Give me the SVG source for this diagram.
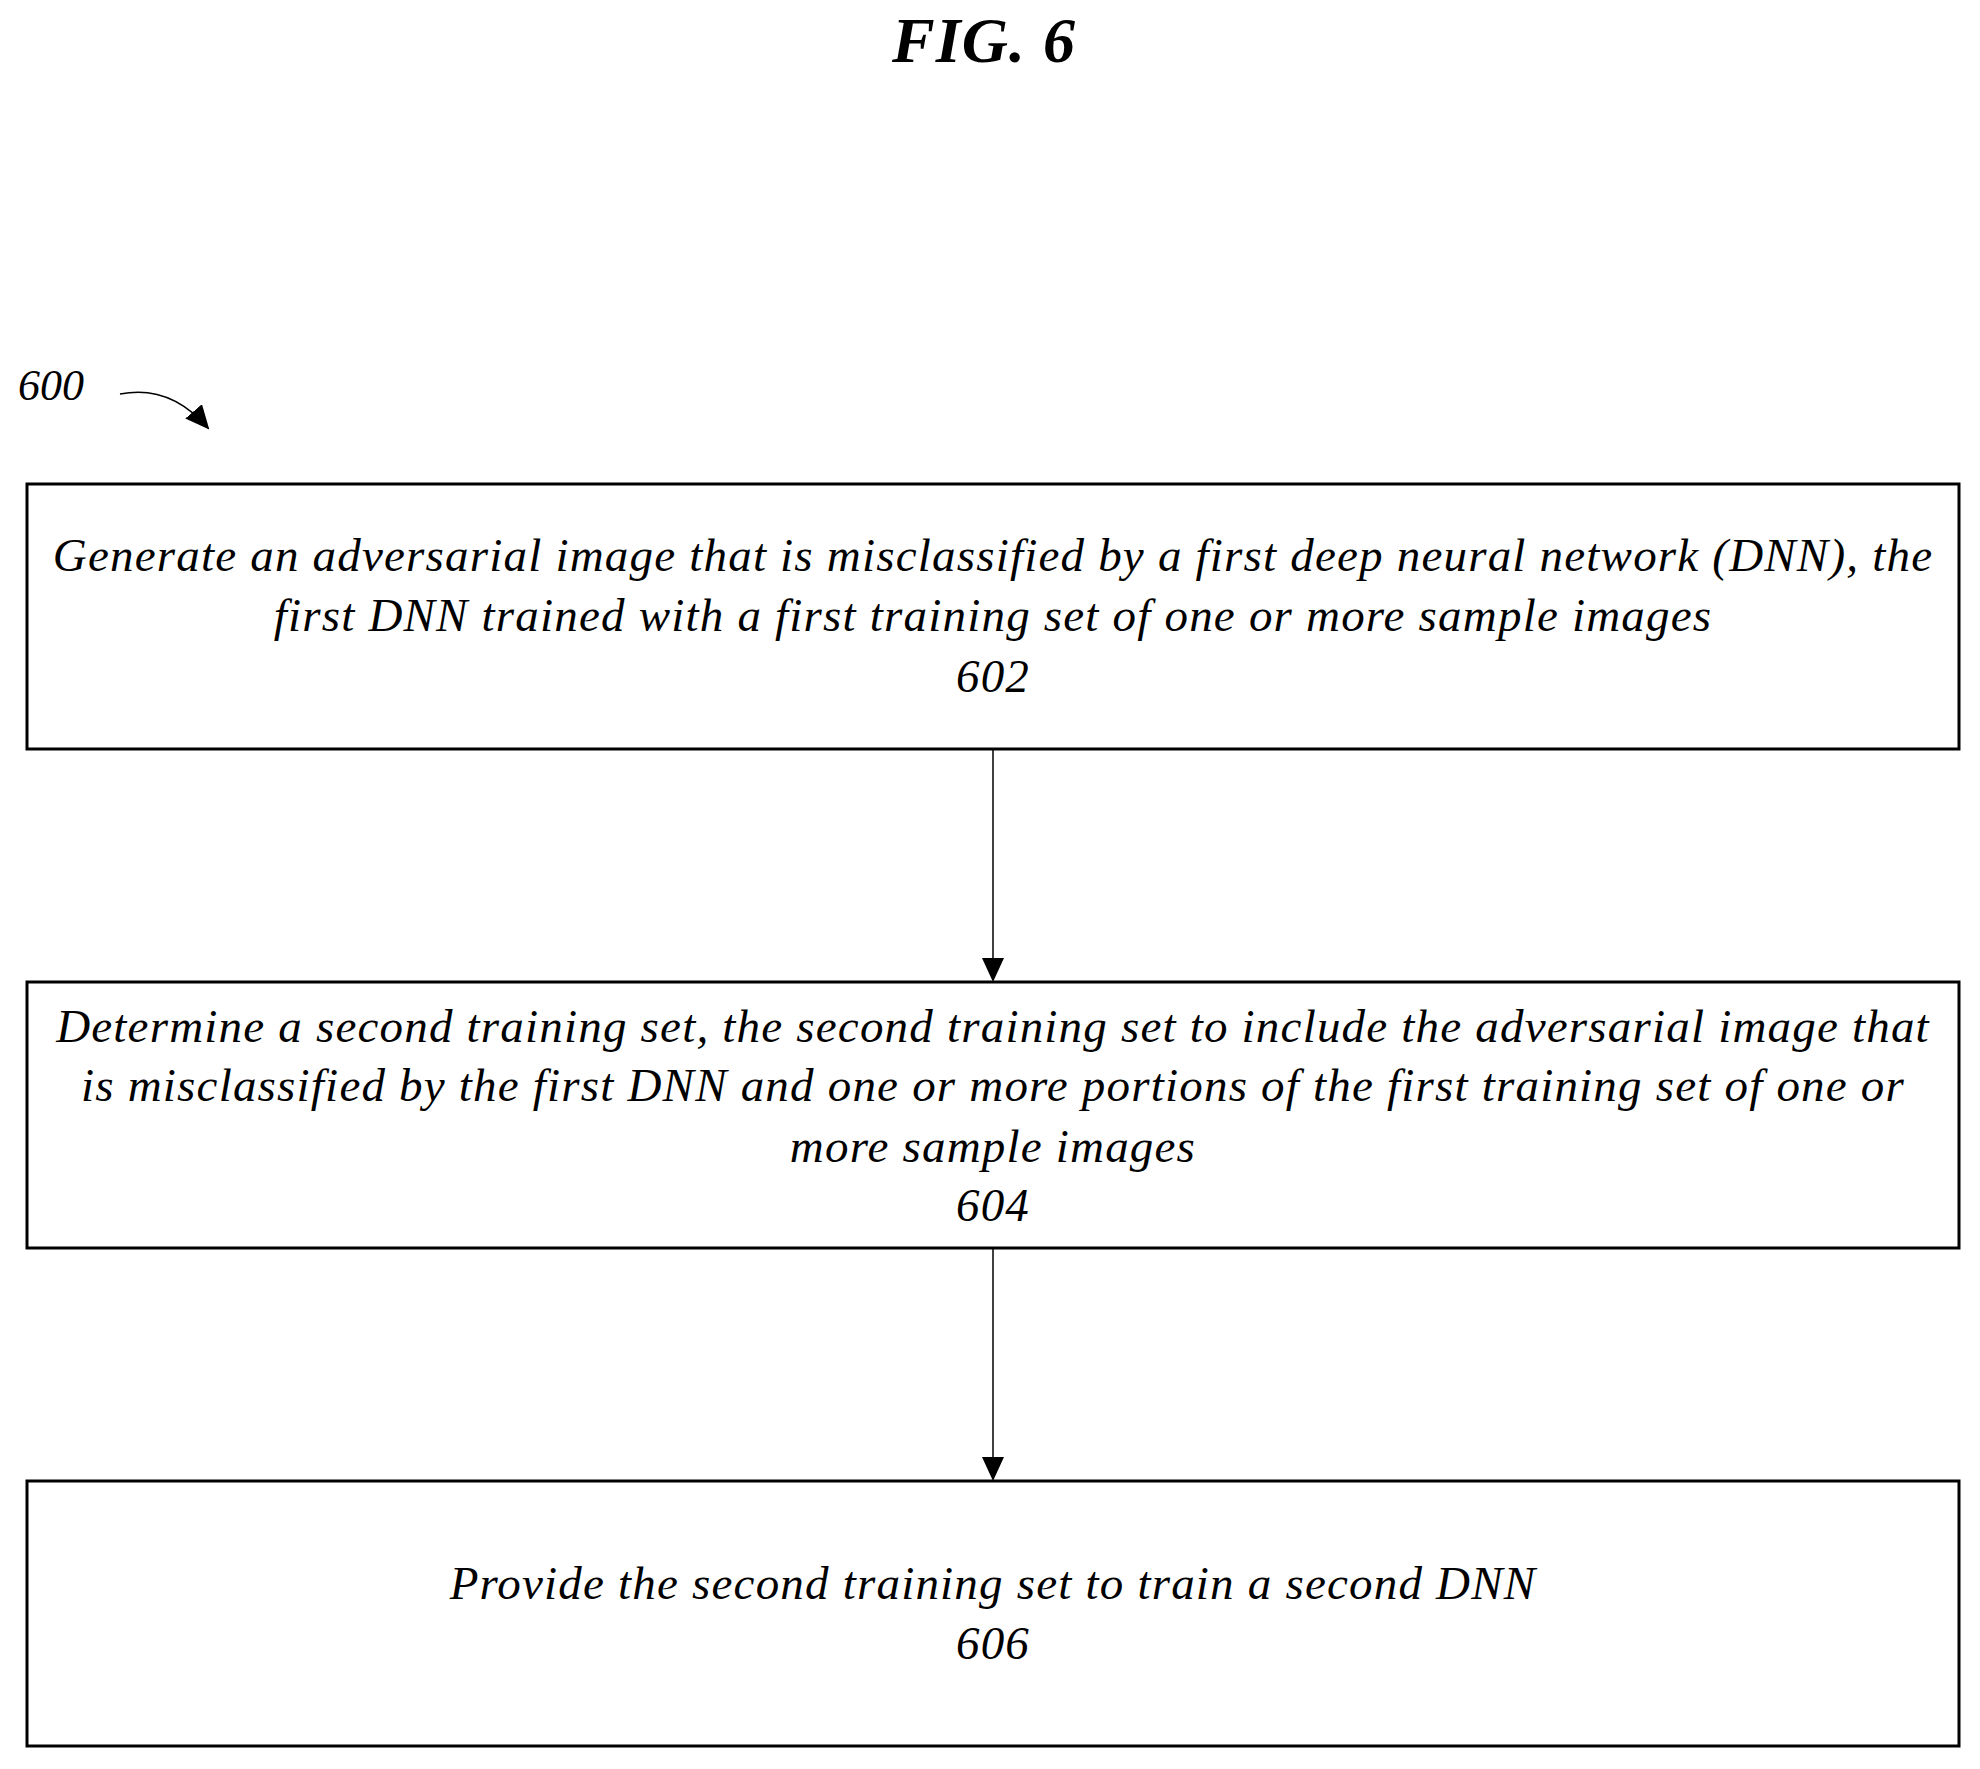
<svg xmlns="http://www.w3.org/2000/svg" width="1980" height="1769" viewBox="0 0 1980 1769">
<style>
.b{fill:#fff;stroke:#000;stroke-width:3}
.t{font-family:"Liberation Serif",serif;font-style:italic;font-size:47px;letter-spacing:1.2px;text-anchor:middle;fill:#000}
.c{stroke:#000;stroke-width:1.5;fill:none}
</style>
<defs><marker id="h" markerWidth="24" markerHeight="22" refX="22" refY="11" orient="auto" markerUnits="userSpaceOnUse"><path d="M0,0 L24,11 L0,22 z" fill="#000"/></marker></defs>
<rect width="1980" height="1769" fill="#fff"/>
<text x="984" y="62" font-family="Liberation Serif,serif" font-style="italic" font-weight="bold" font-size="64" letter-spacing="1" text-anchor="middle">FIG. 6</text>
<g id="label600"><text x="18" y="400" font-family="Liberation Serif,serif" font-style="italic" font-size="44">600</text>
<path d="M120,394 Q170,384 208,428" class="c" stroke-width="2.5" marker-end="url(#h)"/></g>
<g id="n602"><rect class="b" x="27" y="484" width="1932" height="265"/>
<text class="t" x="993" y="571">Generate an adversarial image that is misclassified by a first deep neural network (DNN), the</text>
<text class="t" x="993" y="631">first DNN trained with a first training set of one or more sample images</text>
<text class="t" x="993" y="692">602</text></g>
<g id="n604"><rect class="b" x="27" y="982" width="1932" height="266"/>
<text class="t" x="993" y="1042">Determine a second training set, the second training set to include the adversarial image that</text>
<text class="t" x="993" y="1101">is misclassified by the first DNN and one or more portions of the first training set of one or</text>
<text class="t" x="993" y="1162">more sample images</text>
<text class="t" x="993" y="1221">604</text></g>
<g id="n606"><rect class="b" x="27" y="1481" width="1932" height="265"/>
<text class="t" x="993" y="1599">Provide the second training set to train a second DNN</text>
<text class="t" x="993" y="1659">606</text></g>
<g id="connectors">
<path class="c" d="M993,749 V980" marker-end="url(#h)"/>
<path class="c" d="M993,1248 V1479" marker-end="url(#h)"/>
</g>
</svg>
